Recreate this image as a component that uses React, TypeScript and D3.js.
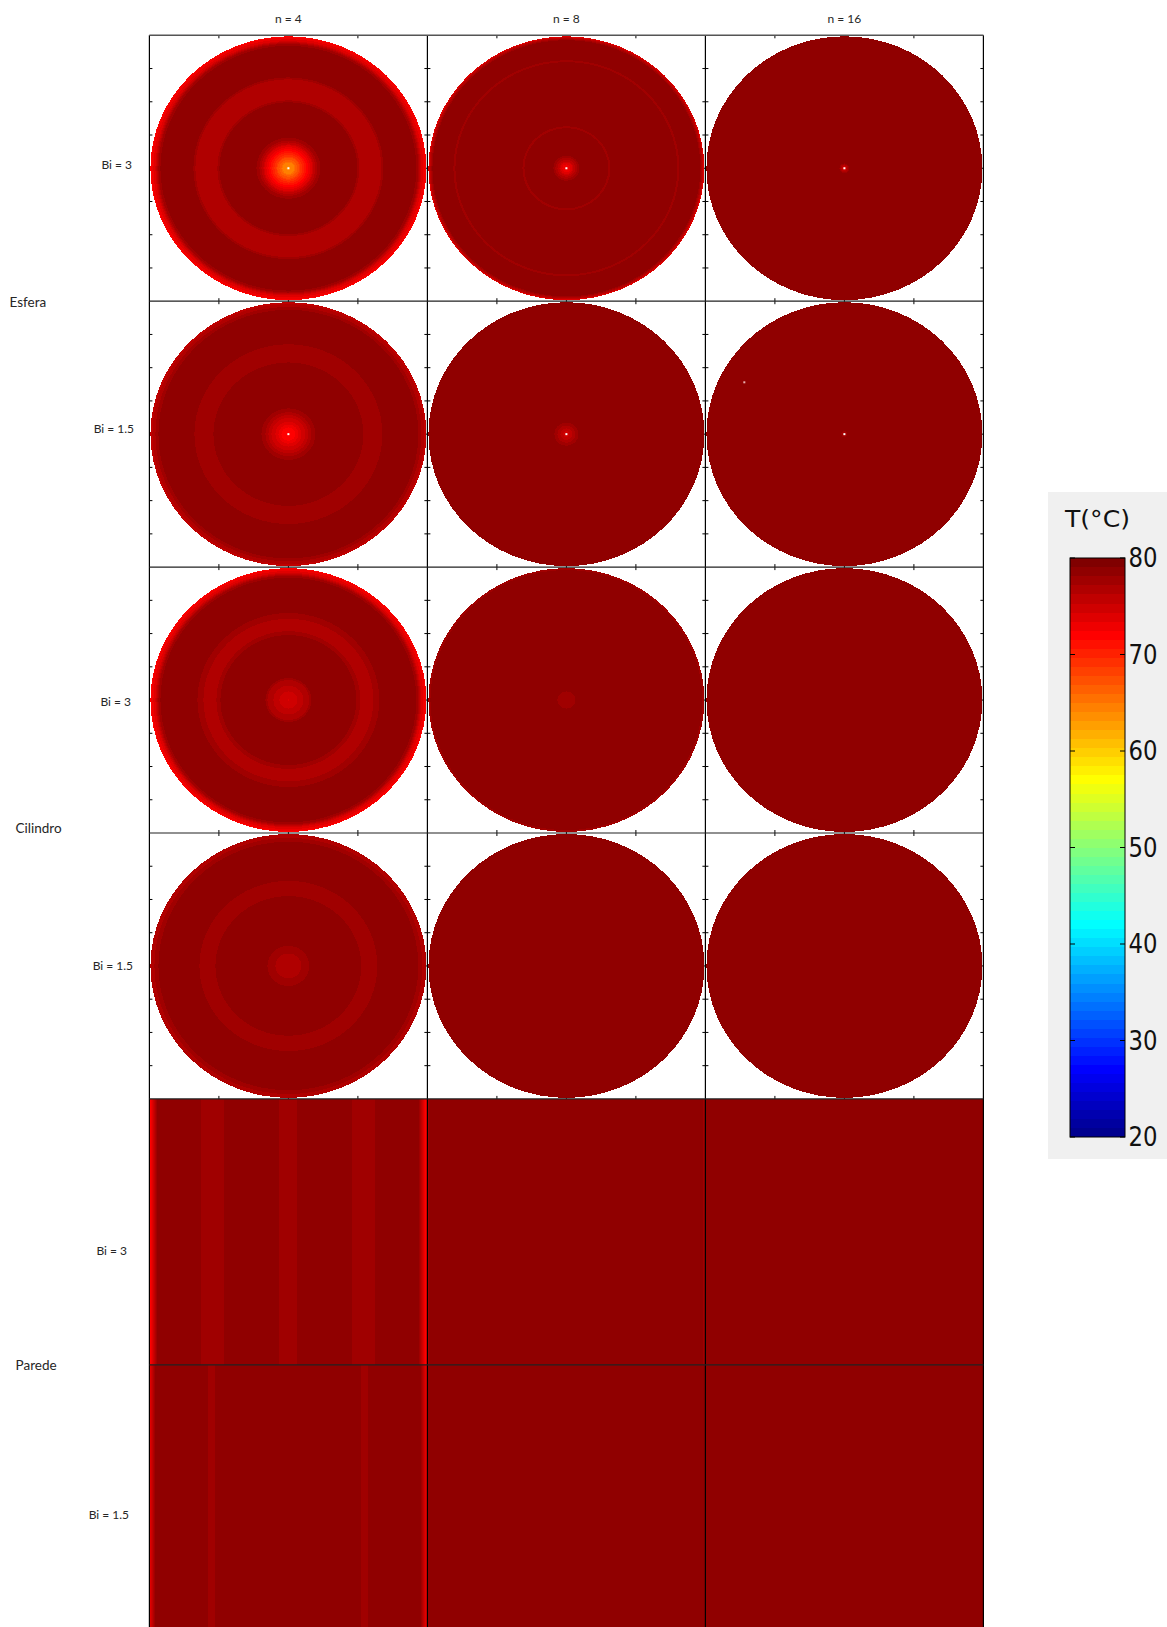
import React from "react";
import * as d3 from "d3";

// column / row labels
const columnLabels = ["n = 4", "n = 8", "n = 16"];
const rowLabels = ["Bi = 3", "Bi = 1.5", "Bi = 3", "Bi = 1.5", "Bi = 3", "Bi = 1.5"];
const groupLabels = ["Esfera", "Cilindro", "Parede"];
const colorbarTicks = [20, 30, 40, 50, 60, 70, 80];

// temperature profiles: [r (or |x| for Parede), T in °C]
// one entry per column (n = 4, 8, 16)
const esferaBi3 = [
  [[0, 63.5], [0.04, 65], [0.08, 68], [0.12, 71], [0.16, 73.5], [0.2, 76.5], [0.24, 78.6], [0.5, 78.6], [0.505, 77.6], [0.52, 76.8], [0.67, 76.8], [0.685, 77.6], [0.69, 78.6], [0.925, 78.6], [0.95, 76], [0.975, 73.5], [1, 72]],
  [[0, 72], [0.03, 73.5], [0.06, 76], [0.1, 78.6], [0.3, 78.6], [0.302, 77.6], [0.318, 77.6], [0.32, 78.6], [0.8, 78.6], [0.802, 77.6], [0.818, 77.6], [0.82, 78.6], [0.97, 78.6], [0.988, 76], [1, 73]],
  [[0, 73], [0.02, 76], [0.04, 78.6], [1, 78.6]],
];
const esferaBi15 = [
  [[0, 71.5], [0.05, 72.5], [0.1, 74.5], [0.15, 76.5], [0.21, 78.6], [0.54, 78.6], [0.545, 77.6], [0.675, 77.6], [0.68, 78.6], [0.93, 78.6], [0.965, 77], [1, 75.5]],
  [[0, 74.5], [0.04, 76], [0.07, 77.5], [0.095, 78.6], [1, 78.6]],
  [[0, 77], [0.03, 78.6], [1, 78.6]],
];
const cilindroBi3 = [
  [[0, 74.3], [0.05, 75], [0.1, 76], [0.15, 77.2], [0.17, 78.6], [0.49, 78.6], [0.495, 77.6], [0.52, 77.6], [0.525, 76.8], [0.61, 76.8], [0.615, 77.6], [0.66, 77.6], [0.665, 78.6], [0.925, 78.6], [0.95, 76], [0.975, 73.5], [1, 72]],
  [[0, 77.6], [0.06, 77.6], [0.065, 78.6], [0.975, 78.6], [1, 77.6]],
  [[0, 78.6], [1, 78.6]],
];
const cilindroBi15 = [
  [[0, 76.8], [0.09, 76.8], [0.095, 77.6], [0.15, 77.6], [0.155, 78.6], [0.53, 78.6], [0.535, 77.6], [0.64, 77.6], [0.645, 78.6], [0.94, 78.6], [0.945, 77.6], [0.97, 77.6], [0.975, 76.8], [1, 76.8]],
  [[0, 78.6], [1, 78.6]],
  [[0, 78.6], [1, 78.6]],
];
const paredeBi3 = [
  [[0, 77.6], [0.06, 77.6], [0.065, 78.6], [0.455, 78.6], [0.46, 77.6], [0.625, 77.6], [0.63, 78.6], [0.94, 78.6], [0.965, 75], [0.985, 72.5], [1, 71.8]],
  [[0, 78.6], [0.985, 78.6], [0.99, 77.6], [1, 77.6]],
  [[0, 78.6], [1, 78.6]],
];
const paredeBi15 = [
  [[0, 78.6], [0.525, 78.6], [0.53, 77.6], [0.575, 77.6], [0.58, 78.6], [0.955, 78.6], [0.975, 76], [1, 72.5]],
  [[0, 78.6], [1, 78.6]],
  [[0, 78.6], [1, 78.6]],
];
const rowsData = [esferaBi3, esferaBi15, cilindroBi3, cilindroBi15, paredeBi3, paredeBi15];
const rowShape = ["sphere", "sphere", "cylinder", "cylinder", "wall", "wall"];

// stray pixel seen in Esfera Bi = 1.5, n = 16 (row, col, x, y in -1..1)
const strayPixels = [{ row: 1, col: 2, x: -0.72, y: -0.39 }];

// layout
const W = 1167, H = 1627;
const X0 = 149.4, CW = 278, Y0 = 35.3, RH = 265.9;
const rowLabelPos = [[132, 164], [134, 428], [131, 701], [133, 965], [127, 1250], [129, 1514]];
const groupLabelPos = [[9.5, 302], [15.6, 828], [15.6, 1365]];

// jet(64) colormap over 20..80 °C
const jetRows = d3.scaleLinear<string>()
  .domain([1, 8, 24, 40, 56, 64])
  .range(["#00008f", "#0000ff", "#00ffff", "#ffff00", "#ff0000", "#800000"])
  .interpolate(d3.interpolateRgb);
const tempToRow = (t: number) => Math.max(1, Math.min(64, Math.floor(((t - 20) / 60) * 64) + 1));
const jet = (t: number) => jetRows(tempToRow(t));

const profileScale = (profile: number[][]) =>
  d3.scaleLinear().domain(profile.map(p => p[0])).range(profile.map(p => p[1])).clamp(true);

const Disk = ({ profile, cx, cy, rx, ry, hole }: any) => {
  const tOf = profileScale(profile);
  const steps = Math.round(rx);
  const rings: { r: number; c: string }[] = [];
  let prev = "";
  for (let i = steps; i >= 1; i--) {
    const c = jet(tOf((i - 0.5) / steps));
    if (c !== prev) { rings.push({ r: i / steps, c }); prev = c; }
  }
  return (
    <g>
      {rings.map((d, i) => (
        <ellipse key={i} cx={cx} cy={cy} rx={d.r * rx} ry={d.r * ry} fill={d.c} shapeRendering="crispEdges" />
      ))}
      {hole && <rect x={cx - 1} y={cy - 1} width={2} height={2} fill="#fff" />}
    </g>
  );
};

const Wall = ({ profile, x, y, w, h }: any) => {
  const tOf = profileScale(profile);
  const xs = d3.scaleLinear().domain([-1, 1]).range([x, x + w]);
  const runs: { a: number; b: number; c: string }[] = [];
  const n = Math.round(w);
  for (let i = 0; i < n; i++) {
    const xn = ((i + 0.5) / n) * 2 - 1;
    const c = jet(tOf(Math.abs(xn)));
    const last = runs[runs.length - 1];
    if (last && last.c === c) last.b = ((i + 1) / n) * 2 - 1;
    else runs.push({ a: (i / n) * 2 - 1, b: ((i + 1) / n) * 2 - 1, c });
  }
  return (
    <g>
      {runs.map((d, i) => (
        <rect key={i} x={xs(d.a)} y={y} width={xs(d.b) - xs(d.a) + 0.5} height={h} fill={d.c} shapeRendering="crispEdges" />
      ))}
    </g>
  );
};

const Colorbar = () => {
  const bx = 1070, bw = 55, top = 558, bottom = 1137;
  const y = d3.scaleLinear().domain([20, 80]).range([bottom, top]);
  const levels = d3.range(1, 65);
  const tOfRow = (k: number) => 20 + ((k - 1) / 64) * 60;
  return (
    <g>
      <rect x={1048} y={492} width={W - 1048} height={667} fill="#f0f0f0" />
      <text x={1065} y={519} fontFamily="DejaVu Sans" fontSize={23} textLength={65} lengthAdjust="spacingAndGlyphs" dominantBaseline="central" fill="#111">T(°C)</text>
      {levels.map(k => (
        <rect key={k} x={bx} y={y(tOfRow(k + 1))} width={bw} height={y(tOfRow(k)) - y(tOfRow(k + 1)) + 0.3} fill={jetRows(k)} shapeRendering="crispEdges" />
      ))}
      <rect x={bx} y={top} width={bw} height={bottom - top} fill="none" stroke="#000" strokeWidth={1} />
      {colorbarTicks.map(t => (
        <g key={t}>
          <line x1={bx} x2={bx + 5} y1={y(t)} y2={y(t)} stroke="#000" />
          <line x1={bx + bw - 5} x2={bx + bw} y1={y(t)} y2={y(t)} stroke="#000" />
          <text x={1128.5} y={y(t)} fontFamily="DejaVu Sans" fontSize={26} textLength={29} lengthAdjust="spacingAndGlyphs" dominantBaseline="central" fill="#111">{t}</text>
        </g>
      ))}
    </g>
  );
};

const App = () => {
  const cells: any[] = [];
  rowsData.forEach((row, ri) => {
    row.forEach((profile, ci) => {
      cells.push({ ri, ci, profile, x: X0 + ci * CW, y: Y0 + ri * RH });
    });
  });
  const labelFont = { fontFamily: "Lato, 'Open Sans', sans-serif", fontSize: 12, fill: "#262626" };

  return (
    <svg width={W} height={H} style={{ position: "absolute", left: 0, top: 0, background: "#fff" }}>
      {/* ticks (under the images) */}
      {cells.map((c, i) => (
        <g key={"t" + i} stroke="#000" strokeWidth={1}>
          {[0.25, 0.5, 0.75].map(f => (
            <g key={f}>
              <line x1={c.x + f * CW} x2={c.x + f * CW} y1={c.y} y2={c.y + 3} />
              <line x1={c.x + f * CW} x2={c.x + f * CW} y1={c.y + RH} y2={c.y + RH - 3} />
            </g>
          ))}
          {d3.range(1, 8).map(k => (
            <g key={k}>
              <line x1={c.x} x2={c.x + 3} y1={c.y + (k / 8) * RH} y2={c.y + (k / 8) * RH} />
              <line x1={c.x + CW} x2={c.x + CW - 3} y1={c.y + (k / 8) * RH} y2={c.y + (k / 8) * RH} />
            </g>
          ))}
        </g>
      ))}

      {/* temperature fields */}
      {cells.map((c, i) =>
        rowShape[c.ri] === "wall" ? (
          <Wall key={"f" + i} profile={c.profile} x={c.x} y={c.y} w={CW} h={RH} />
        ) : (
          <Disk key={"f" + i} profile={c.profile} cx={c.x + CW / 2} cy={c.y + RH / 2} rx={CW / 2 - 1} ry={RH / 2 - 1} hole={rowShape[c.ri] === "sphere"} />
        )
      )}
      {strayPixels.map((p, i) => (
        <rect key={"s" + i} x={X0 + p.col * CW + CW / 2 + p.x * (CW / 2) - 1} y={Y0 + p.row * RH + RH / 2 + p.y * (RH / 2) - 1} width={2} height={2} fill="#e8b0b0" />
      ))}

      {/* borders */}
      {d3.range(0, 4).map(k => (
        <line key={"v" + k} x1={X0 + k * CW} x2={X0 + k * CW} y1={Y0} y2={H} stroke="#000" strokeWidth={1.2} />
      ))}
      {d3.range(0, 6).map(k => (
        <line key={"h" + k} x1={X0} x2={X0 + 3 * CW} y1={Y0 + k * RH} y2={Y0 + k * RH} stroke={k === 0 ? "#555" : "#222"} strokeWidth={k === 0 ? 1.6 : 1.2} />
      ))}

      {/* labels */}
      {columnLabels.map((t, i) => (
        <text key={t} x={X0 + i * CW + CW / 2} y={18} textAnchor="middle" dominantBaseline="central" {...labelFont}>{t}</text>
      ))}
      {rowLabels.map((t, i) => (
        <text key={"r" + i} x={rowLabelPos[i][0]} y={rowLabelPos[i][1]} textAnchor="end" dominantBaseline="central" {...labelFont}>{t}</text>
      ))}
      {groupLabels.map((t, i) => (
        <text key={t} x={groupLabelPos[i][0]} y={groupLabelPos[i][1]} dominantBaseline="central" {...labelFont} fontSize={13.5}>{t}</text>
      ))}

      <Colorbar />
    </svg>
  );
};

export default App;
